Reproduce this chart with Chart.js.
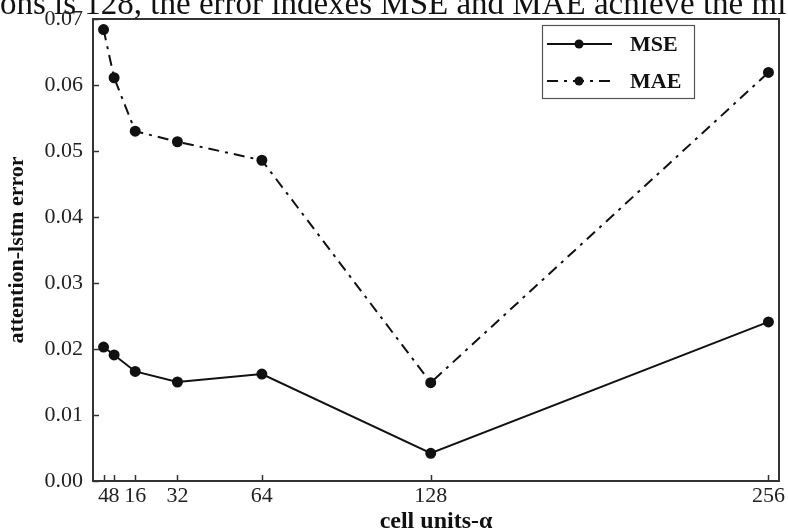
<!DOCTYPE html>
<html>
<head>
<meta charset="utf-8">
<script src="https://cdn.jsdelivr.net/npm/chart.js@4/dist/chart.umd.min.js"></script>
<style>
  html, body { margin: 0; padding: 0; background: #fff; }
  #wrap { position: relative; width: 788px; height: 532px; overflow: hidden; }
  #c { position: absolute; left: 0; top: 0; }
  #caption { position: absolute; left: 0; top: -13px; white-space: nowrap;
    font-family: "Liberation Serif", serif; font-size: 33px; color: #111; line-height: 33px; z-index: 2; }
</style>
</head>
<body>
<div id="wrap">
  <canvas id="c" width="788" height="532"></canvas>
  <div id="caption">ons is 128, the error indexes MSE and MAE achieve the mi</div>
</div>
<script>
const cellUnits = [4, 8, 16, 32, 64, 128, 256];
const mseValues = [0.0203, 0.0191, 0.0166, 0.0150, 0.0162, 0.0042, 0.0241];
const maeValues = [0.0684, 0.0611, 0.0530, 0.0514, 0.0486, 0.0149, 0.0619];
const xTickLabels = [4, 8, 16, 32, 64, 128, 256];
const seriesNames = ['MSE', 'MAE'];

const AXIS = '#333';
const SERIF = '"Liberation Serif", "Times New Roman", serif';

const framePlugin = {
  id: 'frame',
  afterDraw(chart) {
    const { ctx, chartArea: a, scales } = chart;
    ctx.save();
    ctx.strokeStyle = AXIS;
    ctx.lineWidth = 2;
    ctx.strokeRect(a.left, a.top, a.right - a.left, a.bottom - a.top);
    ctx.lineWidth = 1.5;
    scales.x.ticks.forEach(t => {
      const px = Math.round(scales.x.getPixelForValue(t.value)) + 0.5;
      ctx.beginPath(); ctx.moveTo(px, a.bottom); ctx.lineTo(px, a.bottom - 6); ctx.stroke();
    });
    scales.y.ticks.forEach(t => {
      const py = Math.round(scales.y.getPixelForValue(t.value)) + 0.5;
      ctx.beginPath(); ctx.moveTo(a.left, py); ctx.lineTo(a.left + 6, py); ctx.stroke();
    });
    // legend box
    const bx = 542, by = 25, bw = 152, bh = 73;
    ctx.lineWidth = 1.2;
    ctx.strokeStyle = '#555';
    ctx.strokeRect(bx + 0.5, by + 0.5, bw, bh);
    chart.data.datasets.forEach((ds, i) => {
      const y = by + 19 + i * 37;
      ctx.strokeStyle = ds.borderColor;
      ctx.lineWidth = ds.borderWidth;
      ctx.setLineDash(ds.borderDash || []);
      ctx.beginPath(); ctx.moveTo(bx + 5, y); ctx.lineTo(bx + 70, y); ctx.stroke();
      ctx.setLineDash([]);
      ctx.fillStyle = ds.pointBackgroundColor;
      ctx.beginPath(); ctx.arc(bx + 37, y, 4.5, 0, Math.PI * 2); ctx.fill();
      ctx.fillStyle = '#111';
      ctx.font = 'bold 22px ' + SERIF;
      ctx.textBaseline = 'middle';
      ctx.textAlign = 'left';
      ctx.fillText(ds.label, bx + 88, y + 1);
    });
    ctx.restore();
  }
};

new Chart(document.getElementById('c'), {
  type: 'line',
  data: {
    datasets: [
      {
        label: seriesNames[0],
        data: cellUnits.map((x, i) => ({ x, y: mseValues[i] })),
        borderColor: '#111', backgroundColor: '#111',
        pointBackgroundColor: '#111', pointBorderColor: '#111',
        borderWidth: 2, pointRadius: 4.5, tension: 0
      },
      {
        label: seriesNames[1],
        data: cellUnits.map((x, i) => ({ x, y: maeValues[i] })),
        borderColor: '#111', backgroundColor: '#111',
        pointBackgroundColor: '#111', pointBorderColor: '#111',
        borderWidth: 2, borderDash: [11, 6, 3, 6], pointRadius: 4.5, tension: 0
      }
    ]
  },
  options: {
    responsive: false,
    animation: false,
    events: [],
    layout: { padding: { top: 19, right: 9, left: 0, bottom: 0 } },
    plugins: { legend: { display: false }, tooltip: { enabled: false } },
    scales: {
      x: {
        type: 'linear', min: 0, max: 260,
        afterBuildTicks(s) { s.ticks = xTickLabels.map(v => ({ value: v })); },
        afterFit(s) { s.height = 51; },
        grid: { display: false, drawTicks: false },
        border: { display: true, color: AXIS, width: 2 },
        ticks: { autoSkip: false, maxRotation: 0, padding: 2, color: '#222',
          font: { family: SERIF, size: 22 } },
        title: { display: true, text: 'cell units-α', color: '#111', padding: { top: 2, bottom: -4 },
          font: { family: SERIF, size: 24, weight: 'bold' } }
      },
      y: {
        min: 0, max: 0.07,
        afterFit(s) { s.width = 93; },
        afterBuildTicks(s) { s.ticks = [0,1,2,3,4,5,6,7].map(i => ({ value: i / 100 })); },
        grid: { display: false, drawTicks: false },
        border: { display: true, color: AXIS, width: 2 },
        ticks: { padding: 10, color: '#222', callback: v => v.toFixed(2),
          font: { family: SERIF, size: 22, lineHeight: 0.8 } },
        title: { display: true, text: 'attention-lstm error', color: '#111', padding: { top: 4, bottom: 2 },
          font: { family: SERIF, size: 22, weight: 'bold' } }
      }
    }
  },
  plugins: [framePlugin]
});
</script>
</body>
</html>
